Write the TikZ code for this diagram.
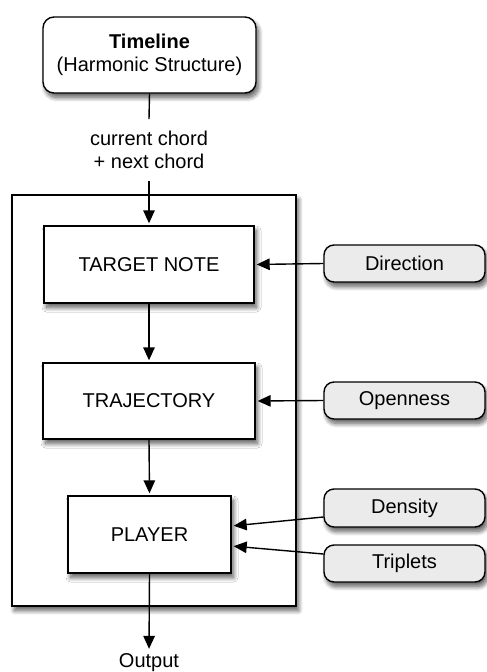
\documentclass[tikz,border=0pt]{standalone}
\usepackage{fontspec}
\setmainfont{Liberation Sans}
\usetikzlibrary{arrows.meta,shadows.blur,calc}

\definecolor{paramfill}{RGB}{235,235,235}

\tikzset{
  soft shadow/.style={blur shadow={shadow xshift=2.5pt, shadow yshift=-4.5pt,
      shadow blur radius=4.5pt, shadow blur steps=12, shadow opacity=65}},
  textsize/.style={font=\fontsize{20}{22.5}\selectfont},
  base/.style={draw=black, line width=1.4pt, textsize,
      align=center, inner sep=0pt, soft shadow},
  stagebox/.style={base, fill=white, rectangle},
  sourcebox/.style={base, fill=white, rounded corners=11pt},
  parambox/.style={base, fill=paramfill, rounded corners=10pt,
      minimum width=161pt, minimum height=37pt},
  container/.style={draw=black, line width=1.4pt, fill=white, rectangle,
      inner sep=0pt, soft shadow},
  plain/.style={textsize, align=center},
  link/.style={line width=1.4pt},
  flow/.style={link, -{Triangle[length=13pt,width=11.5pt]}},
}

\begin{document}
\begin{tikzpicture}[x=1pt, y=-1pt]
  \useasboundingbox (0,0) rectangle (487,672);

  % outer block holding the three processing stages
  \node[container, minimum width=284pt, minimum height=411pt] (core) at (154,400.5) {};

  % source of chord information
  \node[sourcebox, minimum width=213pt, minimum height=76pt] (timeline) at (149.5,55)
    {\textbf{Timeline}\\(Harmonic Structure)};

  \node[plain, inner ysep=12pt] (chords) at (149,150) {current chord\\+ next chord};

  % processing stages
  \node[stagebox, minimum width=210pt, minimum height=77pt] (target) at (149,264.5) {TARGET NOTE};
  \node[stagebox, minimum width=212pt, minimum height=76pt] (traj) at (149,401) {TRAJECTORY};
  \node[stagebox, minimum width=163pt, minimum height=77pt] (player) at (149.5,534.5) {PLAYER};

  % control parameters
  \node[parambox] (direction) at (404.5,263.5) {Direction};
  \node[parambox] (openness) at (404.5,400.5) {Openness};
  \node[parambox, minimum height=38pt] (density) at (404.5,508) {Density};
  \node[parambox] (triplets) at (404.5,563.5) {Triplets};

  \node[plain, anchor=base, inner sep=0pt] (output) at (149,667) {Output};

  % connectors
  \draw[link] (timeline.south) -- (chords.north);
  \draw[flow, shorten >=2pt] (chords.south) -- (target.north);
  \draw[flow, shorten >=2pt] (target.south) -- (traj.north);
  \draw[flow, shorten >=2pt] (traj.south) -- (player.north);
  \draw[flow, shorten >=4pt] (player.south) -- (output.north);

  \draw[flow, shorten >=2pt] (direction.west) -- (target.east);
  \draw[flow, shorten >=2pt] (openness.west) -- (traj.east);
  \draw[flow, shorten >=2pt] ($(density.west)+(0,9)$) -- ($(player.east)+(0,-8.5)$);
  \draw[flow, shorten >=2pt] ($(triplets.west)+(0,-9.5)$) -- ($(player.east)+(0,11.5)$);
\end{tikzpicture}
\end{document}
